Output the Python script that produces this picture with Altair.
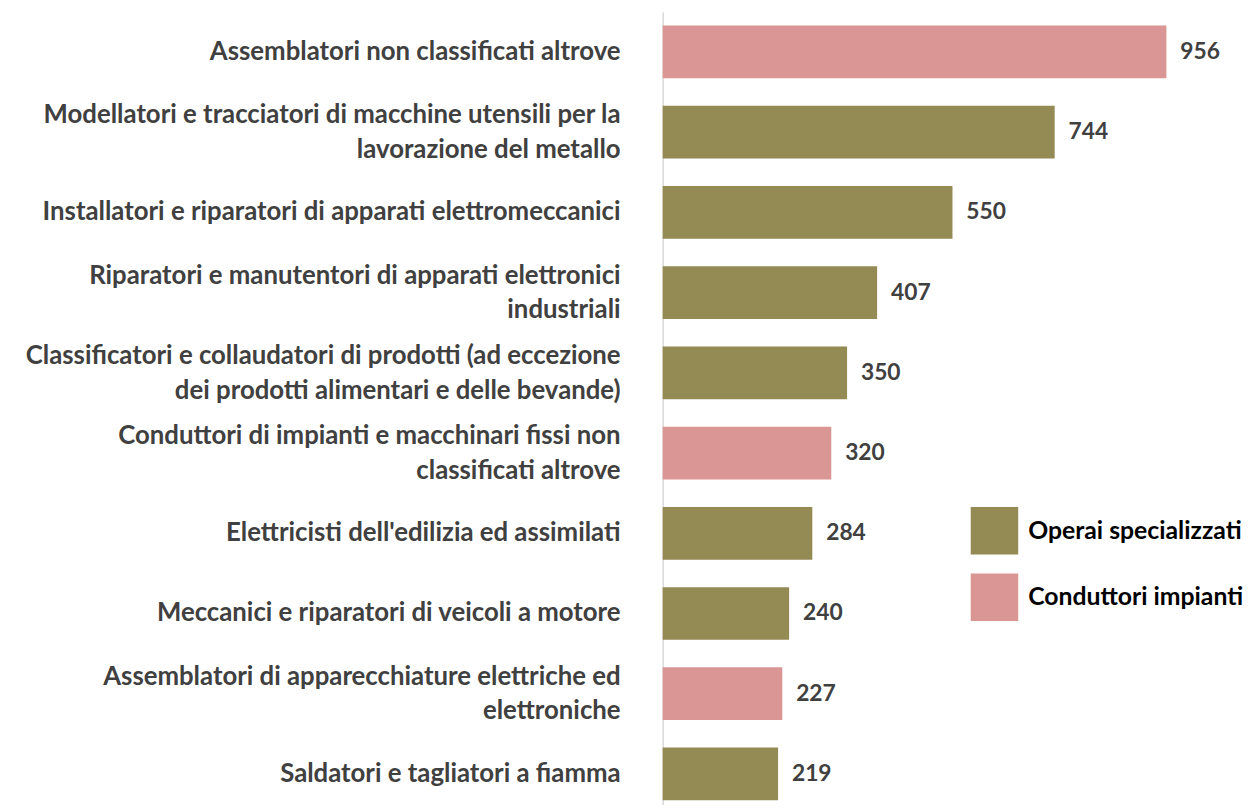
import altair as alt
import pandas as pd

categories = [
    "Assemblatori non classificati altrove",
    "Modellatori e tracciatori di macchine utensili per la\nlavorazione del metallo",
    "Installatori e riparatori di apparati elettromeccanici",
    "Riparatori e manutentori di apparati elettronici\nindustriali",
    "Classificatori e collaudatori di prodotti (ad eccezione\ndei prodotti alimentari e delle bevande)",
    "Conduttori di impianti e macchinari fissi non\nclassificati altrove",
    "Elettricisti dell'edilizia ed assimilati",
    "Meccanici e riparatori di veicoli a motore",
    "Assemblatori di apparecchiature elettriche ed\nelettroniche",
    "Saldatori e tagliatori a fiamma",
]
values = [956, 744, 550, 407, 350, 320, 284, 240, 227, 219]
groups = [
    "Conduttori impianti",
    "Operai specializzati",
    "Operai specializzati",
    "Operai specializzati",
    "Operai specializzati",
    "Conduttori impianti",
    "Operai specializzati",
    "Operai specializzati",
    "Conduttori impianti",
    "Operai specializzati",
]
legend_order = ["Operai specializzati", "Conduttori impianti"]
colors = ["#948A54", "#D99694"]

df = pd.DataFrame({"cat": categories, "val": values, "grp": groups})

FONT = "Lato"

y = alt.Y(
    "cat:N",
    sort=categories,
    title=None,
    scale=alt.Scale(paddingInner=0.343, paddingOuter=0.1715, range=[0, 810]),
    axis=alt.Axis(
        labelExpr="split(datum.label, '\\n')",
        labelFont=FONT,
        labelFontSize=26,
        labelFontWeight="bold",
        labelColor="#404040",
        labelPadding=43,
        labelLimit=800,
        labelLineHeight=35,
        labelOffset={
            "condition": {"test": "indexof(datum.value, '\\n') >= 0", "value": -17},
            "value": 0,
        },
        ticks=False,
        grid=False,
        domainColor="#D9D9D9",
        domainWidth=1.5,
    ),
)

x = alt.X(
    "val:Q",
    scale=alt.Scale(domain=[0, 1000], nice=False),
    axis=None,
)

bars = alt.Chart(df).mark_bar().encode(
    y=y,
    x=x,
    color=alt.Color(
        "grp:N",
        scale=alt.Scale(domain=legend_order, range=colors),
        legend=alt.Legend(
            title=None,
            orient="none",
            legendX=311,
            legendY=500,
            symbolType="square",
            symbolSize=2300,
            symbolStrokeWidth=0,
            symbolOpacity=1,
            labelFont=FONT,
            labelFontSize=25,
            labelFontWeight="bold",
            labelColor="#000000",
            labelOffset=10,
            rowPadding=19,
            labelLimit=400,
        ),
    ),
)

text = alt.Chart(df).mark_text(
    align="left",
    baseline="middle",
    dx=14,
    font=FONT,
    fontSize=23,
    fontWeight="bold",
    color="#404040",
).encode(y=alt.Y("cat:N", sort=categories), x="val:Q", text="val:Q")

chart = (
    alt.layer(bars, text)
    .properties(
        width=532,
        height=797,
        autosize=alt.AutoSizeParams(type="none"),
        padding={"left": 661, "top": 0, "right": 61, "bottom": 0},
        background="white",
    )
    .configure_view(stroke=None)
)

chart.save("out.html", embed_options={"renderer": "svg", "actions": False})
